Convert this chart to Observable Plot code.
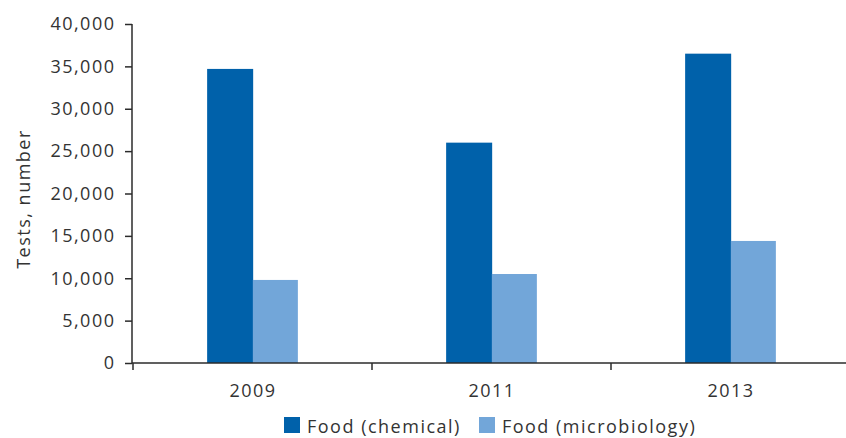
<!DOCTYPE html>
<html>
<head>
<meta charset="utf-8">
<script src="https://cdn.jsdelivr.net/npm/d3@7"></script>
<script src="https://cdn.jsdelivr.net/npm/@observablehq/plot@0.6"></script>
<style>
  html, body { margin: 0; padding: 0; background: #fff; overflow: hidden; }
  #chart { position: relative; width: 846px; height: 438px; overflow: hidden; }
  #chart svg { display: block; max-width: none; }
  .legend {
    position: absolute; top: 417px; left: 284px;
    display: flex; gap: 18px;
    font-family: "Open Sans", sans-serif; font-size: 18px; line-height: 18px;
    letter-spacing: 1.5px; color: #333;
  }
  .legend .item { display: flex; align-items: flex-start; gap: 7px; white-space: nowrap; }
  .legend .swatch { width: 16px; height: 16px; flex: none; }
</style>
</head>
<body>
<div id="chart"></div>
<script>
// Laboratory tests performed, by year and type
const years = ["2009", "2011", "2013"];
const seriesNames = ["Food (chemical)", "Food (microbiology)"];
const chemical = [34700, 26000, 36500];
const microbiology = [9800, 10500, 14400];
const yTicks = [0, 5000, 10000, 15000, 20000, 25000, 30000, 35000, 40000];
const yLabel = "Tests, number";

const seriesColors = ["#0061aa", "#72a6d9"];
const axisColor = "#2b2b2b";
const textColor = "#333";

const chemicalRows = years.map((year, i) => ({year, series: seriesNames[0], value: chemical[i]}));
const microRows = years.map((year, i) => ({year, series: seriesNames[1], value: microbiology[i]}));

// layout
const W = 851, H = 408;
const margin = {left: 132, right: 0, top: 24, bottom: 45};
const band = (W - margin.left - margin.right) / years.length;
const barW = 45.7;
const outerInset = band / 2 - barW;

// axis lines plus boundary ticks between the year groups
function axisLines(index, scales, values, dimensions) {
  const {width, marginLeft, marginRight, marginTop} = dimensions;
  const x = scales.x, y = scales.y;
  const y0 = y(0);
  const bw = typeof x.bandwidth === "function" ? x.bandwidth() : (width - marginLeft - marginRight) / years.length;
  const g = d3.create("svg:g")
    .attr("stroke", axisColor)
    .attr("stroke-width", 1.5)
    .attr("fill", "none");
  g.append("line").attr("x1", marginLeft).attr("x2", marginLeft).attr("y1", marginTop).attr("y2", y0);
  g.append("line").attr("x1", marginLeft).attr("x2", width - marginRight).attr("y1", y0).attr("y2", y0);
  const edges = years.map(d => x(d)).concat([x(years[years.length - 1]) + bw]);
  for (const e of edges) {
    g.append("line").attr("x1", e).attr("x2", e).attr("y1", y0).attr("y2", y0 + 7);
  }
  return g.node();
}

const chart = Plot.plot({
  width: W,
  height: H,
  marginLeft: margin.left,
  marginRight: margin.right,
  marginTop: margin.top,
  marginBottom: margin.bottom,
  style: {
    fontFamily: "'Open Sans', sans-serif",
    fontSize: "18px",
    letterSpacing: "1.5px",
    color: textColor,
    background: "#fff",
    overflow: "visible",
    maxWidth: "none"
  },
  x: {domain: years, padding: 0, label: null},
  y: {domain: [0, 40000], label: null},
  color: {domain: seriesNames, range: seriesColors},
  marks: [
    // chemical bar reaches slightly under its neighbour so the pair shows no seam
    Plot.barY(chemicalRows, {x: "year", y: "value", fill: "series", insetLeft: outerInset, insetRight: band / 2 - 1}),
    Plot.barY(microRows, {x: "year", y: "value", fill: "series", insetLeft: band / 2, insetRight: outerInset}),
    Plot.axisY(yTicks, {
      tickSize: 7, tickPadding: 10, tickFormat: d3.format(","),
      fontSize: 18, stroke: axisColor, strokeWidth: 1.5, fill: textColor, label: null
    }),
    Plot.axisX(years, {tickSize: 0, tickPadding: 21, fontSize: 18, fill: textColor, label: null}),
    Plot.text([yLabel], {
      text: d => d, frameAnchor: "left", textAnchor: "middle", rotate: -90, dx: -108, dy: 5,
      fontSize: 18, fill: textColor
    }),
    axisLines
  ]
});

const root = document.getElementById("chart");
root.appendChild(chart);

const legend = document.createElement("div");
legend.className = "legend";
seriesNames.forEach((name, i) => {
  const item = document.createElement("div");
  item.className = "item";
  const sw = document.createElement("span");
  sw.className = "swatch";
  sw.style.background = seriesColors[i];
  const label = document.createElement("span");
  label.textContent = name;
  item.append(sw, label);
  legend.appendChild(item);
});
root.appendChild(legend);
</script>
</body>
</html>
